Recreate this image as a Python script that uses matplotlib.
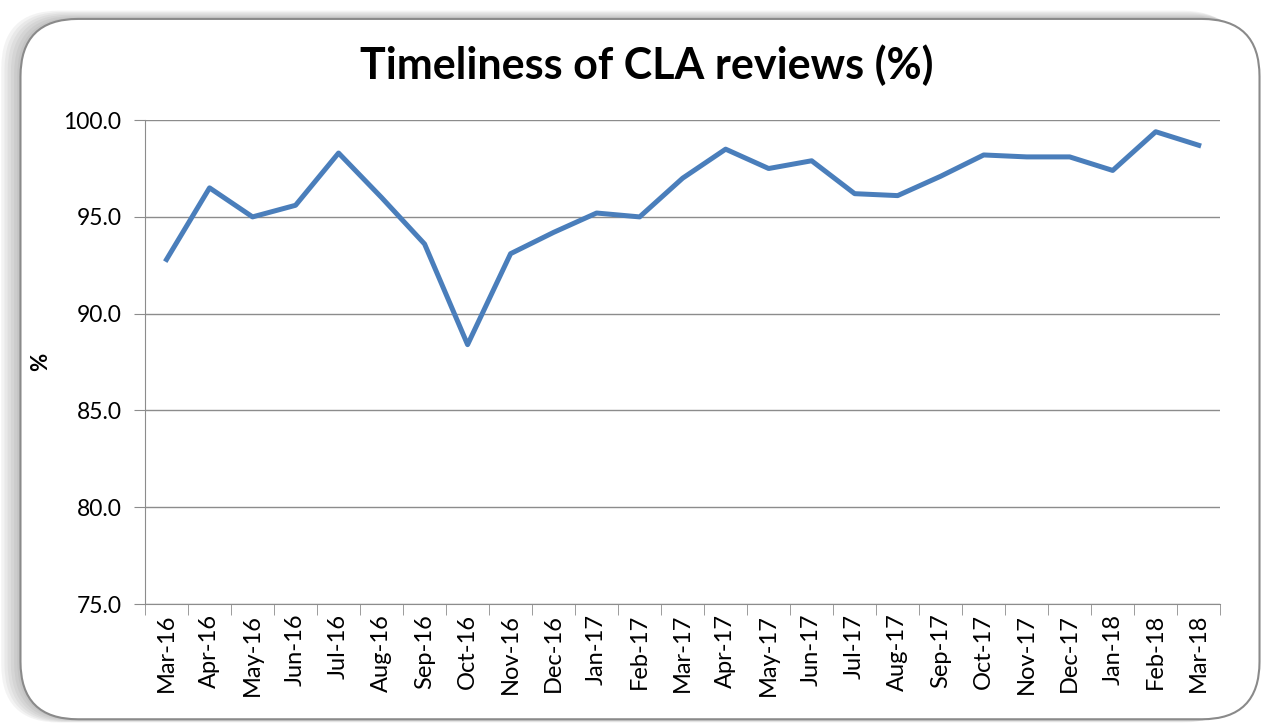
import matplotlib.pyplot as plt
from matplotlib.patches import FancyBboxPatch

months = ["Mar-16", "Apr-16", "May-16", "Jun-16", "Jul-16", "Aug-16", "Sep-16",
          "Oct-16", "Nov-16", "Dec-16", "Jan-17", "Feb-17", "Mar-17", "Apr-17",
          "May-17", "Jun-17", "Jul-17", "Aug-17", "Sep-17", "Oct-17", "Nov-17",
          "Dec-17", "Jan-18", "Feb-18", "Mar-18"]
timeliness = [92.8, 96.5, 95.0, 95.6, 98.3, 96.0, 93.6, 88.4, 93.1, 94.2, 95.2,
              95.0, 97.0, 98.5, 97.5, 97.9, 96.2, 96.1, 97.1, 98.2, 98.1, 98.1,
              97.4, 99.4, 98.7]
yticks = [75, 80, 85, 90, 95, 100]

plt.rcParams['font.family'] = ['Lato', 'DejaVu Sans']

fig = plt.figure(figsize=(12.8, 7.28), dpi=100)
asp = 1280 / 728

# rounded frame with a soft grey shadow to the left and top
for i in range(6):
    off = 0.0025 * (6 - i)
    fig.patches.append(FancyBboxPatch((0.016 - off, 0.012 - off * 0.3), 0.968, 0.962 + off * asp * 0.6,
                                      boxstyle="round,pad=0,rounding_size=0.045",
                                      transform=fig.transFigure, facecolor='#606060',
                                      alpha=0.07, edgecolor='none', zorder=0,
                                      mutation_aspect=asp))
fig.patches.append(FancyBboxPatch((0.016, 0.012), 0.968, 0.962,
                                  boxstyle="round,pad=0,rounding_size=0.045",
                                  transform=fig.transFigure, facecolor='white',
                                  edgecolor='#8a8a8a', linewidth=1.5, zorder=1,
                                  mutation_aspect=asp))

ax = fig.add_axes([0.1133, 0.1703, 0.84, 0.6647])
ax.set_zorder(2)
ax.patch.set_alpha(0)

x = list(range(len(months)))
ax.plot(x, timeliness, color='#4a7ebb', linewidth=3.6, zorder=3)

ax.set_ylim(75, 100)
ax.set_xlim(-0.5, len(months) - 0.5)
ax.set_yticks(yticks)
ax.set_yticklabels([f"{v:.1f}" for v in yticks], fontsize=16.5)
ax.grid(axis='y', color='#8c8c8c', linewidth=1)
ax.set_xticks(x)
ax.set_xticklabels(months, rotation=90, fontsize=17)
ax.set_xticks([i - 0.5 for i in range(len(months) + 1)], minor=True)
ax.tick_params(axis='x', which='major', length=0, pad=7)
ax.tick_params(axis='x', which='minor', length=8, color='#8c8c8c')
ax.tick_params(axis='y', length=8, color='#8c8c8c', pad=9)
for s in ['top', 'right']:
    ax.spines[s].set_visible(False)
ax.spines['left'].set_color('#8c8c8c')
ax.spines['bottom'].set_color('#8c8c8c')

ax.set_ylabel('%', fontsize=16, fontweight='bold', labelpad=9)
fig.text(0.505, 0.91, 'Timeliness of CLA reviews (%)', ha='center', va='center',
         fontsize=31, fontweight='bold')

fig.savefig('out.png', dpi=100)
